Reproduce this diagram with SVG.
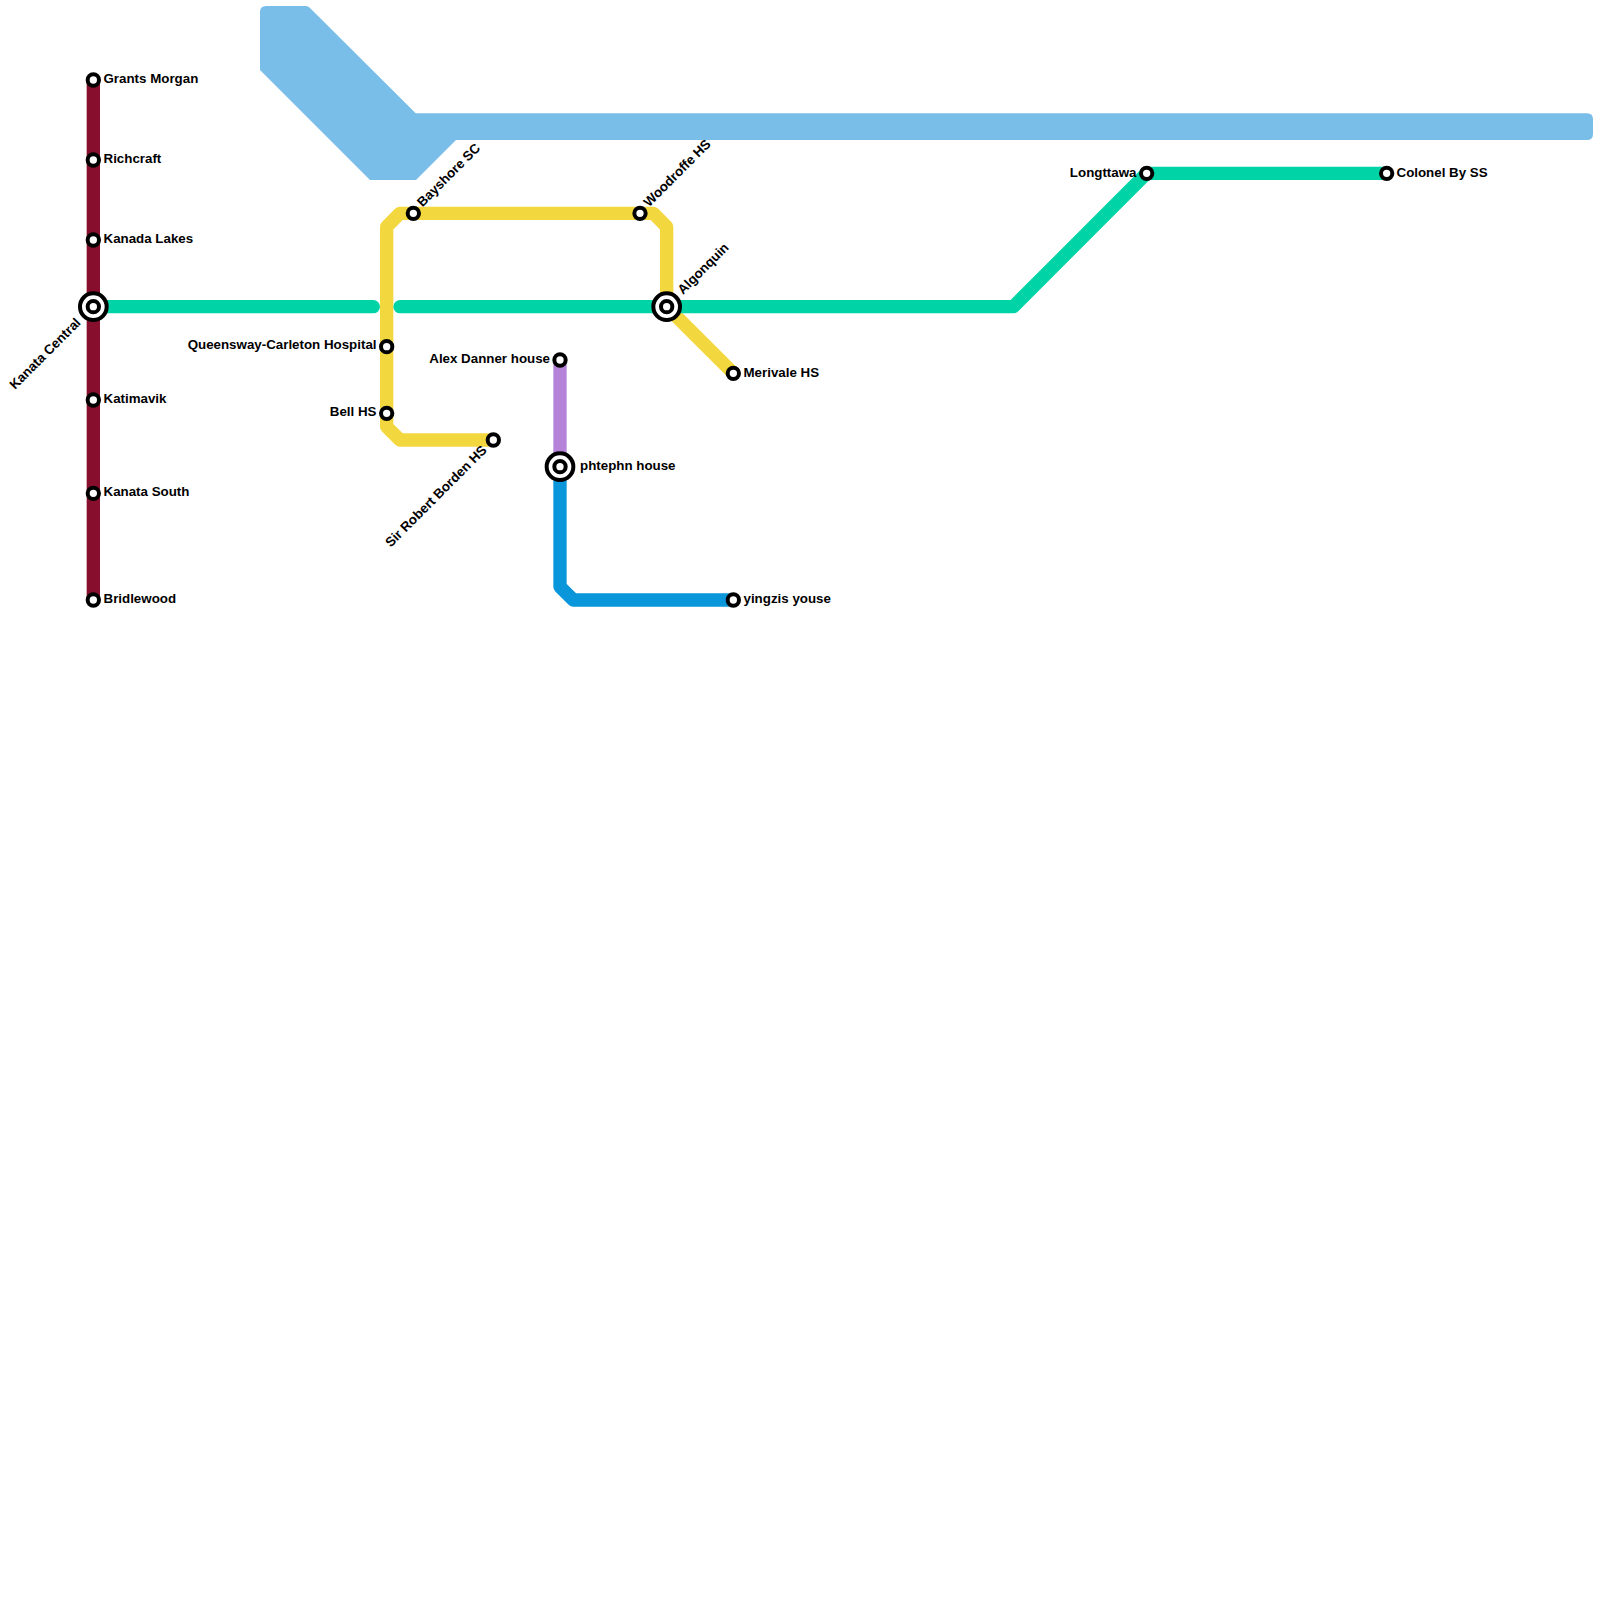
<svg xmlns="http://www.w3.org/2000/svg" width="1600" height="1600" viewBox="0 0 1600 1600">
<style>
.l{fill:none;stroke-width:13.33;stroke-linejoin:round;stroke-linecap:round}
.s{fill:#fff;stroke:#000;stroke-width:4}
.r{fill:#fff;stroke:#000;stroke-width:4}
.t{font-family:"Liberation Sans",Arial,sans-serif;font-weight:700;font-size:13.33px;fill:#000}
.e{text-anchor:end}
</style>
<rect width="1600" height="1600" fill="#fff"/>
<g id="connectors">
<path id="line-water" d="M266 6H306Q308 6 309.500 7.500L415.700 113.300H1587Q1593 113.300 1593 119.300V134Q1593 140 1587 140H456L416 180H370L260 70V12Q260 6 266 6Z" fill="#79bde9"/>
<path class="l" stroke="#870f2d" d="M93.330 80V600"/>
<path class="l" stroke="#f3d73f" d="M493.330 440H400L386.670 426.670V226.670L400 213.330H653.330L666.670 226.670V306.670L733.330 373.330"/>
<path class="l" stroke="#00d4a6" d="M93.330 306.670H373.330M400 306.670H1013.330L1146.670 173.330H1386.670"/>
<path class="l" stroke="#b584d9" d="M560 360V466.670"/>
<path class="l" stroke="#0a96da" d="M560 466.670V586.670L573.330 600H733.330"/>
</g>
<g id="grants-morgan"><circle class="s" cx="93.330" cy="80" r="5.670"/><text class="t" x="103.500" y="82.800">Grants Morgan</text></g>
<g id="richcraft"><circle class="s" cx="93.330" cy="160" r="5.670"/><text class="t" x="103.500" y="162.800">Richcraft</text></g>
<g id="kanada-lakes"><circle class="s" cx="93.330" cy="240" r="5.670"/><text class="t" x="103.500" y="242.800">Kanada Lakes</text></g>
<g id="kanata-central"><circle class="r" cx="93.330" cy="306.670" r="13.330"/><circle class="s" cx="93.330" cy="306.670" r="5.670"/><text class="t e" transform="translate(81.500 323.500) rotate(-45)">Kanata Central</text></g>
<g id="katimavik"><circle class="s" cx="93.330" cy="400" r="5.670"/><text class="t" x="103.500" y="402.800">Katimavik</text></g>
<g id="kanata-south"><circle class="s" cx="93.330" cy="493.330" r="5.670"/><text class="t" x="103.500" y="496.100">Kanata South</text></g>
<g id="bridlewood"><circle class="s" cx="93.330" cy="600" r="5.670"/><text class="t" x="103.500" y="602.800">Bridlewood</text></g>
<g id="bayshore-sc"><circle class="s" cx="413.330" cy="213.330" r="5.670"/><text class="t" transform="translate(422.500 207.500) rotate(-45)">Bayshore SC</text></g>
<g id="woodroffe-hs"><circle class="s" cx="640" cy="213.330" r="5.670"/><text class="t" transform="translate(649 207.500) rotate(-45)">Woodroffe HS</text></g>
<g id="algonquin"><circle class="r" cx="666.670" cy="306.670" r="13.330"/><circle class="s" cx="666.670" cy="306.670" r="5.670"/><text class="t" transform="translate(683 295) rotate(-45)">Algonquin</text></g>
<g id="queensway-carleton"><circle class="s" cx="386.670" cy="346.670" r="5.670"/><text class="t e" x="376.500" y="349.300">Queensway-Carleton Hospital</text></g>
<g id="bell-hs"><circle class="s" cx="386.670" cy="413.330" r="5.670"/><text class="t e" x="376.500" y="416.100">Bell HS</text></g>
<g id="sir-robert-borden-hs"><circle class="s" cx="493.330" cy="440" r="5.670"/><text class="t e" transform="translate(487.500 451) rotate(-45)">Sir Robert Borden HS</text></g>
<g id="merivale-hs"><circle class="s" cx="733.330" cy="373.330" r="5.670"/><text class="t" x="743.500" y="376.800">Merivale HS</text></g>
<g id="alex-danner-house"><circle class="s" cx="560" cy="360" r="5.670"/><text class="t e" x="550" y="362.800">Alex Danner house</text></g>
<g id="phtephn-house"><circle class="r" cx="560" cy="466.670" r="13.330"/><circle class="s" cx="560" cy="466.670" r="5.670"/><text class="t" x="580" y="470">phtephn house</text></g>
<g id="yingzis-youse"><circle class="s" cx="733.330" cy="600" r="5.670"/><text class="t" x="743.500" y="602.800">yingzis youse</text></g>
<g id="longttawa"><circle class="s" cx="1146.670" cy="173.330" r="5.670"/><text class="t e" x="1136.500" y="176.800">Longttawa</text></g>
<g id="colonel-by-ss"><circle class="s" cx="1386.670" cy="173.330" r="5.670"/><text class="t" x="1396.500" y="176.800">Colonel By SS</text></g>
</svg>
